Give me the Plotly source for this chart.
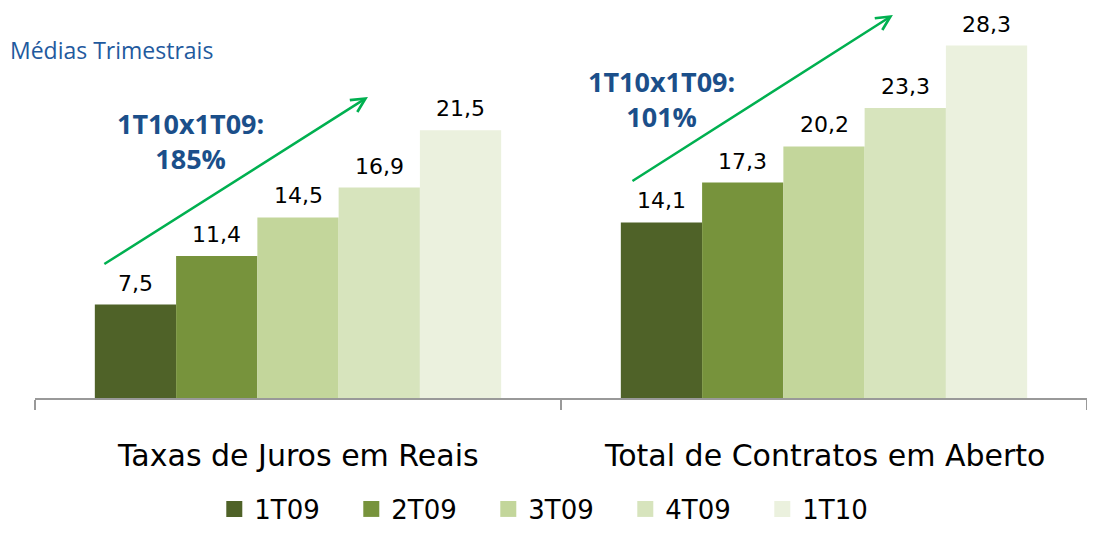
import plotly.graph_objects as go

categories = ["Taxas de Juros em Reais", "Total de Contratos em Aberto"]
series = ["1T09", "2T09", "3T09", "4T09", "1T10"]
values = {
    "1T09": [7.5, 14.1],
    "2T09": [11.4, 17.3],
    "3T09": [14.5, 20.2],
    "4T09": [16.9, 23.3],
    "1T10": [21.5, 28.3],
}
growth_labels = ["185%", "101%"]
colors = ["#4f6228", "#77933c", "#c3d69b", "#d7e4bd", "#ebf1de"]

BAR_W = 0.1545
fig = go.Figure()
annotations = []

for j, s in enumerate(series):
    xs = [i + (j - 2) * BAR_W for i in range(len(categories))]
    fig.add_trace(go.Bar(
        x=xs, y=values[s], width=BAR_W, marker_color=colors[j],
        marker_line_width=0, showlegend=False, name=s,
    ))
    for x, v in zip(xs, values[s]):
        annotations.append(dict(
            x=x, y=v, text=f"{v:.1f}".replace(".", ","), showarrow=False,
            xanchor="center", yanchor="bottom", yshift=8, borderpad=0,
            font=dict(family="DejaVu Sans", size=22, color="#000000"),
        ))
    # legend proxies
    fig.add_trace(go.Scatter(
        x=[None], y=[None], mode="markers", name=s,
        marker=dict(symbol="square", size=16, color=colors[j]),
        showlegend=True,
    ))

# category labels
for i, c in enumerate(categories):
    annotations.append(dict(
        x=0.25 + 0.5 * i, y=-0.1477, xref="paper", yref="paper", text=c,
        showarrow=False, xanchor="center", yanchor="middle",
        font=dict(family="DejaVu Sans", size=30, color="#000000"),
    ))

# title
annotations.append(dict(
    x=-0.0257, y=0.9016, xref="paper", yref="paper", text="Médias Trimestrais",
    showarrow=False, xanchor="left", yanchor="middle",
    font=dict(family="Open Sans", size=23, color="#1F5A9E"),
))

# growth texts
growth_pos = [(-0.205, 20.64), (0.691, 24.0)]
for (gx, gy), g in zip(growth_pos, growth_labels):
    annotations.append(dict(
        x=gx, y=gy, text=f"<b>1T10x1T09:<br>{g}</b>", showarrow=False,
        xanchor="center", yanchor="middle",
        font=dict(family="Open Sans", size=27, color="#1b4f8a"),
    ))

# arrows (head at x,y; tail at ax,ay)
arrows = [((-0.371, 10.68), (0.133, 24.18)), ((0.633, 17.35), (1.131, 30.76))]
for (tx, ty), (hx, hy) in arrows:
    annotations.append(dict(
        x=hx, y=hy, ax=tx, ay=ty, xref="x", yref="y", axref="x", ayref="y",
        text="", showarrow=True, arrowhead=5, arrowsize=1.1, arrowwidth=2.5,
        arrowcolor="#00b050",
    ))

fig.update_layout(
    width=1079, height=518,
    margin=dict(l=27, r=0, t=4, b=128, autoexpand=False),
    plot_bgcolor="white", paper_bgcolor="white",
    barmode="overlay",
    annotations=annotations,
    legend=dict(
        orientation="h", x=0.496, xanchor="center", y=-0.2876, yanchor="middle",
        font=dict(family="DejaVu Sans", size=26, color="#000000"),
        entrywidth=92, entrywidthmode="pixels", itemsizing="trace",
    ),
    xaxis=dict(
        range=[-0.5, 1.5], tickvals=[-0.5, 0.5, 1.5], ticktext=["", "", ""],
        ticks="outside", ticklen=10, tickwidth=2, tickcolor="#999999",
        showline=True, linecolor="#999999", linewidth=2,
        showgrid=False, zeroline=False,
    ),
    yaxis=dict(range=[0, 31], visible=False, showgrid=False, zeroline=False),
)

fig.write_html("out.html")
